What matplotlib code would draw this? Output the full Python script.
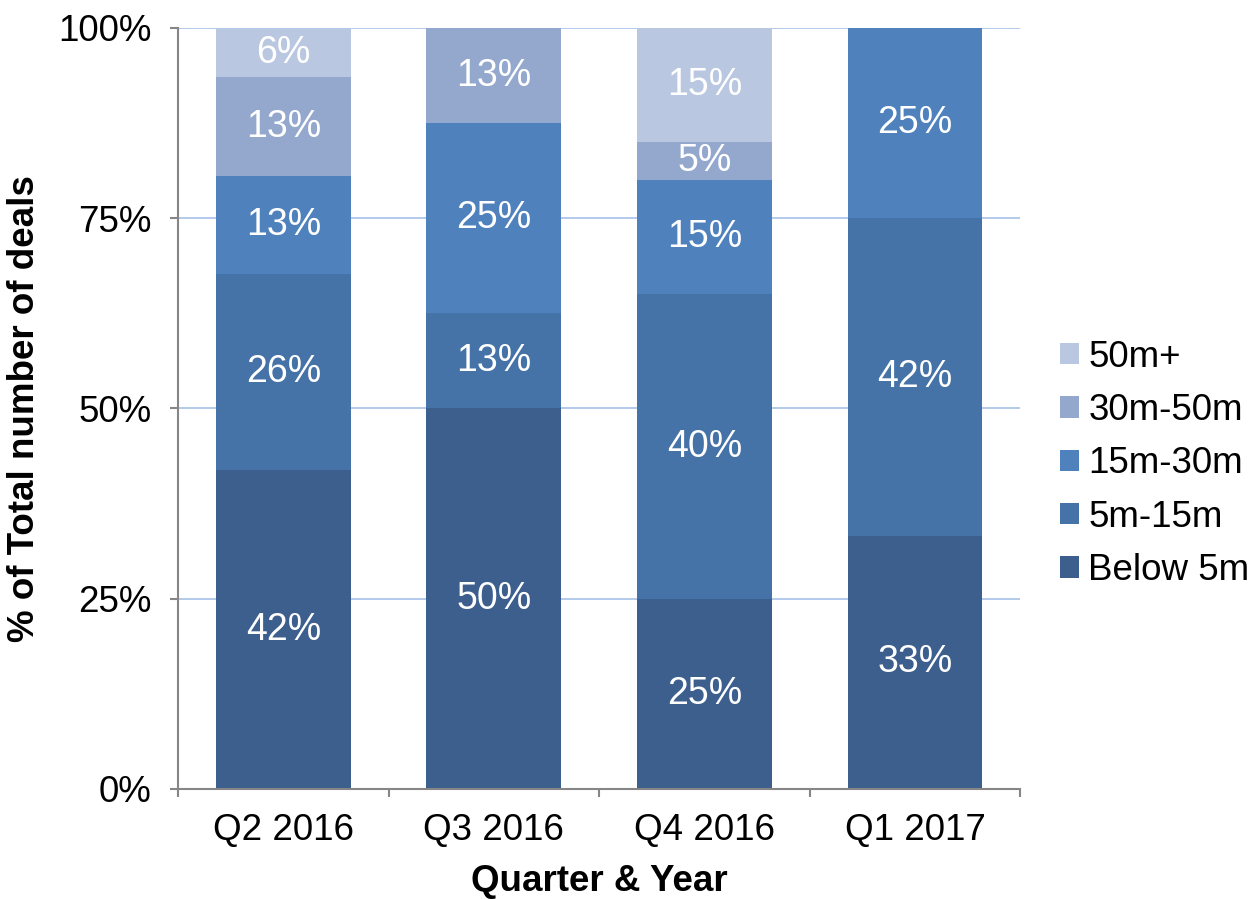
"""
Stacked share of deals by size band per quarter.
"""

import numpy as np
import matplotlib.pyplot as plt

plt.rcParams["font.family"] = ["Liberation Sans", "DejaVu Sans"]

quarters = ["Q2 2016", "Q3 2016", "Q4 2016", "Q1 2017"]

bands = ["Below 5m", "5m-15m", "15m-30m", "30m-50m", "50m+"]

below_5m = [41.9, 50.0, 25.0, 33.3]
m5_15 = [25.8, 12.5, 40.0, 41.7]
m15_30 = [12.9, 25.0, 15.0, 25.0]
m30_50 = [12.9, 12.5, 5.0, 0.0]
m50_plus = [6.4, 0.0, 15.0, 0.0]

colors = ["#3c5f8e", "#4572a7", "#4f81bd", "#94a8ce", "#bac7e0"]

series = [below_5m, m5_15, m15_30, m30_50, m50_plus]

fig = plt.figure(figsize=(12.58, 8.99), dpi=100)
ax = fig.add_axes([0.1415, 0.1224, 0.6695, 0.8465])

x = np.arange(len(quarters))
bottom = np.zeros(len(quarters))
handles = []

for name, vals, col in zip(bands, series, colors):

    vals = np.array(vals)

    bars = ax.bar(
        x,
        vals,
        width=0.64,
        bottom=bottom,
        color=col,
        label=name,
        zorder=2
    )
    handles.append(bars)

    for xi, v, b in zip(x, vals, bottom):
        if v > 0:
            ax.text(
                xi,
                b + v / 2,
                "%d%%" % int(v + 0.5),
                ha="center",
                va="center",
                color="white",
                fontsize=27,
                zorder=3
            )

    bottom = bottom + vals

ax.set_xlim(-0.5, len(quarters) - 0.5)
ax.set_ylim(0, 100)

ax.set_yticks([0, 25, 50, 75, 100])
ax.set_yticklabels(["0%", "25%", "50%", "75%", "100%"], fontsize=26.5)
ax.yaxis.grid(True, color="#a6c1e8", linewidth=1.2, zorder=0)

ax.set_xticks(x)
ax.set_xticklabels(quarters, fontsize=26.5)
ax.set_xticks(np.arange(len(quarters) + 1) - 0.5, minor=True)
ax.tick_params(axis="x", which="major", length=0, pad=17)
ax.tick_params(axis="x", which="minor", length=6, color="#868686", width=1.5)
ax.tick_params(axis="y", length=6, color="#868686", width=1.5, pad=13)

for side in ["top", "right"]:
    ax.spines[side].set_visible(False)

for side in ["left", "bottom"]:
    ax.spines[side].set_color("#868686")
    ax.spines[side].set_linewidth(1.5)

ax.set_xlabel("Quarter & Year", fontsize=26.5, fontweight="bold", labelpad=12)
ax.set_ylabel("% of Total number of deals", fontsize=26.5, fontweight="bold", labelpad=12)

fig.legend(
    handles[::-1],
    bands[::-1],
    loc="center left",
    bbox_to_anchor=(0.828, 0.484),
    frameon=False,
    fontsize=26.5,
    handlelength=0.52,
    handleheight=0.52,
    handletextpad=0.25,
    labelspacing=0.5,
    borderpad=0
)

plt.savefig("out.png", dpi=100)
